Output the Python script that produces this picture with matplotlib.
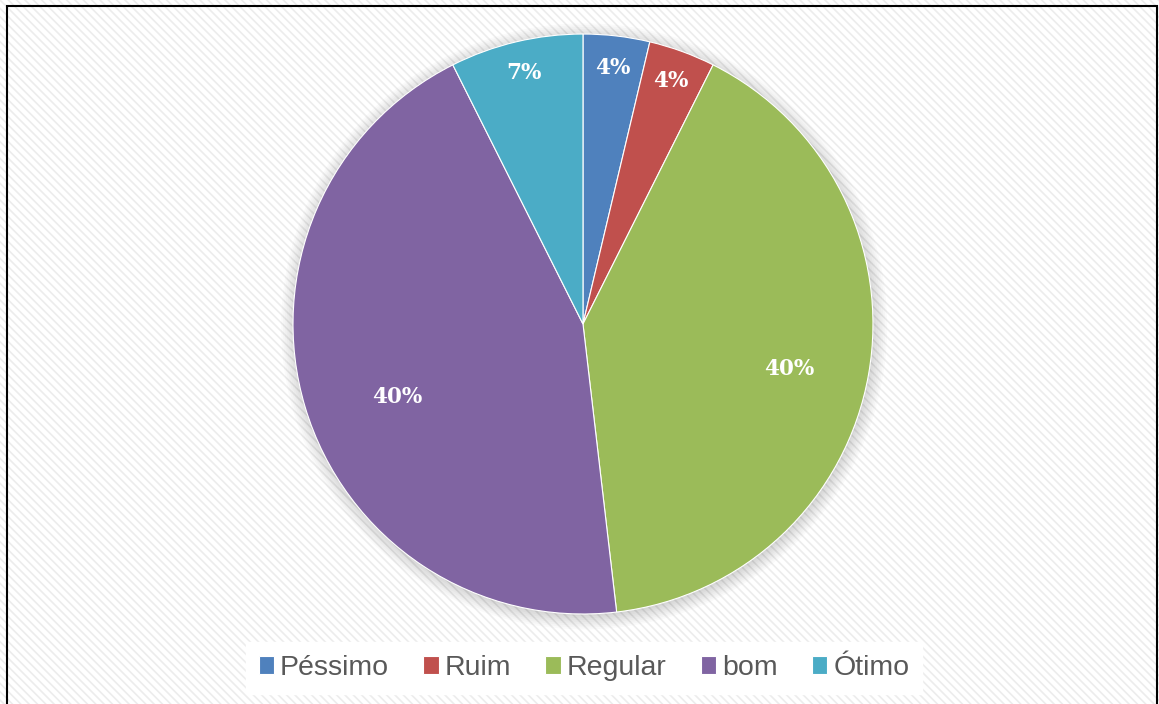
import numpy as np
import matplotlib.pyplot as plt
from matplotlib.patches import Rectangle, Circle

# values, labels as printed on the chart
categories = ["Péssimo", "Ruim", "Regular", "bom", "Ótimo"]
values = [3.7, 3.7, 40.7, 44.4, 7.4]
labels = ["4%", "4%", "40%", "40%", "7%"]
colors = ["#4f81bd", "#c0504d", "#9bbb59", "#8064a2", "#4bacc6"]
label_radius = [0.89, 0.89, 0.727, 0.687, 0.89]
label_turn = [0, 0, -2.4, 4.8, 0]  # degrees, nudges for Excel's "best fit"

plt.rcParams["hatch.linewidth"] = 1.2

fig = plt.figure(figsize=(11.59, 7.04), dpi=100)

# faint diagonal background texture
bg = Rectangle((0, 0), 1, 1, transform=fig.transFigure, facecolor="white",
               edgecolor="#ececec", hatch="\\\\\\\\", linewidth=0, zorder=-10)
fig.patches.append(bg)

# chart border
frame = Rectangle((7 / 1159, -0.01), 1150 / 1159, 1.01 - 6 / 704,
                  transform=fig.transFigure, fill=False, edgecolor="black",
                  linewidth=1.5, zorder=5)
fig.patches.append(frame)

ax = fig.add_axes([0.2528, 0.1278, 0.5004, 0.8239])

# soft shadow around the pie
for r in np.linspace(1.045, 1.0, 8):
    ax.add_patch(Circle((0.004, -0.008), r, facecolor="#000000", alpha=0.02,
                        edgecolor="none", zorder=0, clip_on=False))

wedges, _ = ax.pie(values, colors=colors, startangle=90, counterclock=False,
                   radius=1.0, wedgeprops=dict(linewidth=0.8, edgecolor="white"))
for w in wedges:
    w.set_zorder(2)

ax.set_xlim(-1, 1)
ax.set_ylim(-1, 1)
ax.set_aspect("equal")
ax.axis("off")

for w, lab, r, turn in zip(wedges, labels, label_radius, label_turn):
    ang = np.deg2rad((w.theta1 + w.theta2) / 2 + turn)
    ax.text(r * np.cos(ang), r * np.sin(ang), lab, ha="center", va="center",
            color="white", fontsize=15.5, fontweight="bold",
            family="DejaVu Serif", zorder=3)

leg = fig.legend(wedges, categories, loc="center", bbox_to_anchor=(584 / 1159, 1 - 668 / 704),
                 ncol=5, frameon=True, fancybox=False, framealpha=1,
                 facecolor="white", edgecolor="white", handlelength=0.55,
                 handleheight=0.55, handletextpad=0.2, columnspacing=1.2,
                 borderpad=0.45, prop={"family": "Liberation Sans", "size": 20.5})
for t in leg.get_texts():
    t.set_color("#595959")

fig.savefig("out.png", dpi=100)
plt.close()
